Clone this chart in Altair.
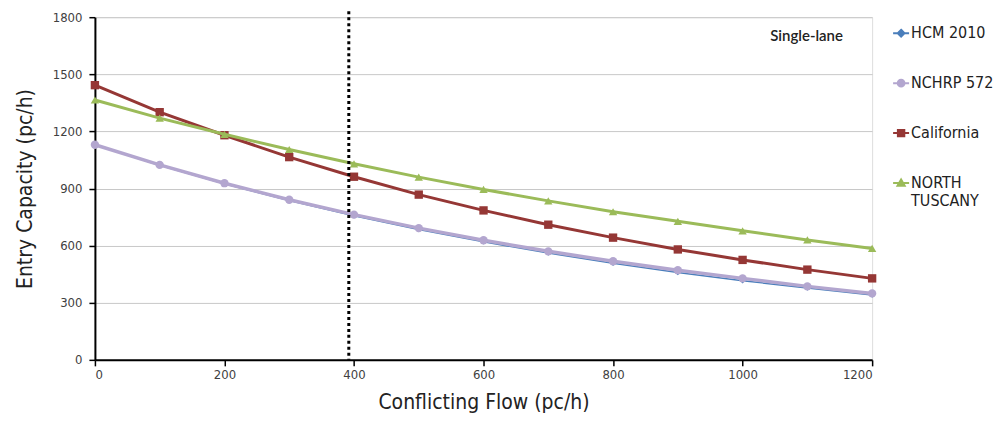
import altair as alt
import pandas as pd

flows = [0, 100, 200, 300, 400, 500, 600, 700, 800, 900, 1000, 1100, 1200]
hcm2010 = [1130, 1022, 925, 837, 757, 685, 620, 561, 508, 459, 416, 377, 341]
nchrp572 = [1130, 1024, 928, 841, 763, 692, 628, 570, 518, 471, 428, 386, 349]
california = [1443, 1301, 1180, 1065, 962, 868, 785, 710, 642, 580, 525, 474, 428]
north_tuscany = [1365, 1270, 1185, 1105, 1030, 960, 895, 835, 778, 728, 678, 630, 585]

series_names = ["HCM 2010", "NCHRP 572", "California", "NORTH TUSCANY"]
series_values = [hcm2010, nchrp572, california, north_tuscany]
series_colors = ["#4a7ebb", "#b3a6cf", "#953735", "#9bbb59"]
series_shapes = ["diamond", "circle", "square", "triangle-up"]
series_widths = [1.5, 3.5, 3, 3]
series_sizes = [30, 70, 70, 70]
legend_paths = [
    "M-1,0H1M0,-0.42L0.42,0L0,0.42L-0.42,0Z",
    "M-1,0H1M0.42,0A0.42,0.42,0,1,1,-0.42,0A0.42,0.42,0,1,1,0.42,0Z",
    "M-1,0H1M-0.4,-0.4H0.4V0.4H-0.4Z",
    "M-1,0H1M0,-0.45L0.45,0.35H-0.45Z",
]
threshold_flow = [392]
annotation = ["Single-lane"]

rows = []
for name, vals in zip(series_names, series_values):
    for f, v in zip(flows, vals):
        rows.append({"flow": f, "capacity": v, "series": name})
df = pd.DataFrame(rows)

NARROW = "Liberation Sans Narrow, Arial Narrow, DejaVu Sans Condensed, sans-serif"

xscale = alt.Scale(domain=[0, 1200], nice=False)
yscale = alt.Scale(domain=[0, 1800], nice=False)

xaxis = alt.Axis(values=[0, 200, 400, 600, 800, 1000, 1200], format="d",
                 title="Conflicting Flow (pc/h)",
                 grid=False, domainColor="black", domainWidth=2, tickColor="black",
                 tickWidth=1.5, tickSize=6, labelFont=NARROW, labelFontSize=13,
                 labelColor="#404040", labelPadding=3, titleFont=NARROW, titleFontSize=21,
                 titleFontWeight="normal", titleColor="#222222", titlePadding=10)
yaxis = alt.Axis(values=[0, 300, 600, 900, 1200, 1500, 1800], format="d",
                 title="Entry Capacity (pc/h)",
                 grid=True, gridColor="#c8c8c8", gridWidth=1, domainColor="black",
                 domainWidth=2, tickColor="black", tickWidth=1.5, tickSize=6,
                 labelFont=NARROW, labelFontSize=13, labelColor="#404040", labelPadding=7,
                 titleFont=NARROW, titleFontSize=21, titleFontWeight="normal",
                 titleColor="#222222", titlePadding=17)

base = alt.Chart(df)
layers = []
for i, name in enumerate(series_names):
    sub = base.transform_filter(alt.datum.series == name)
    enc = dict(x=alt.X("flow:Q", scale=xscale, axis=xaxis),
               y=alt.Y("capacity:Q", scale=yscale, axis=yaxis))
    layers.append(sub.mark_line(color=series_colors[i], strokeWidth=series_widths[i]).encode(**enc))
    layers.append(sub.mark_point(shape=series_shapes[i], filled=True, color=series_colors[i],
                                 size=series_sizes[i], opacity=1).encode(**enc))

leg = alt.Legend(title=None, orient="none", legendX=798, legendY=7, symbolSize=256,
                 symbolStrokeWidth=2, labelFont=NARROW, labelFontSize=16, labelColor="#222222",
                 labelLimit=200, rowPadding=33, padding=0, labelOffset=1,
                 labelExpr="datum.label == 'NORTH TUSCANY' ? ['NORTH', 'TUSCANY'] : datum.label")
legend_layer = base.transform_filter("false").mark_point(filled=True, strokeWidth=2, opacity=1).encode(
    x=alt.X("flow:Q", scale=xscale, axis=xaxis),
    y=alt.Y("capacity:Q", scale=yscale, axis=yaxis),
    shape=alt.Shape("series:N", scale=alt.Scale(domain=series_names, range=legend_paths), legend=leg),
    fill=alt.Fill("series:N", scale=alt.Scale(domain=series_names, range=series_colors), legend=leg),
    stroke=alt.Stroke("series:N", scale=alt.Scale(domain=series_names, range=series_colors), legend=leg),
)

rule = alt.Chart(pd.DataFrame({"flow": threshold_flow})).mark_rule(
    color="black", strokeWidth=3, strokeDash=[3, 3]).encode(
    x=alt.X("flow:Q", scale=xscale), y=alt.value(-6), y2=alt.value(343))

label = alt.Chart(pd.DataFrame({"text": annotation, "flow": [1155], "capacity": [1700]})).mark_text(
    align="right", baseline="middle", font="Lato", fontSize=15, fontWeight=600, color="#222222").encode(
    x=alt.X("flow:Q", scale=xscale), y=alt.Y("capacity:Q", scale=yscale), text="text:N")

chart = alt.layer(*layers, rule, label, legend_layer).properties(
    width=778, height=343,
    padding={"left": 6, "top": 1, "right": 5, "bottom": 0},
).configure_view(stroke="#a6a6a6", strokeWidth=1).configure(background="white")

chart.save("out.html", embed_options={"renderer": "svg", "actions": False})
